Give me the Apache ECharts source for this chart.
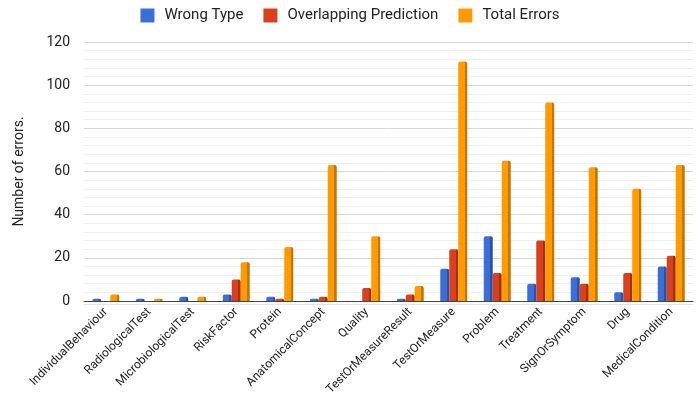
<!DOCTYPE html>
<html><head><meta charset="utf-8">
<script src="https://cdn.jsdelivr.net/npm/echarts@6/dist/echarts.min.js"></script>
<style>html,body{margin:0;padding:0;background:#fff}#c{width:700px;height:408px}</style>
</head><body><div id="c"></div>
<script>
const categories = ["IndividualBehaviour","RadiologicalTest","MicrobiologicalTest","RiskFactor","Protein","AnatomicalConcept","Quality","TestOrMeasureResult","TestOrMeasure","Problem","Treatment","SignOrSymptom","Drug","MedicalCondition"];
const wrongType = [1,1,2,3,2,1,0,1,15,30,8,11,4,16];
const overlapping = [0,0,0,10,1,2,6,3,24,13,28,8,13,21];
const totalErrors = [3,1,2,18,25,63,30,7,111,65,92,62,52,63];
const yTicks = [0,20,40,60,80,100,120];

function grad(main, dark){
  return new echarts.graphic.LinearGradient(0,0,1,0,[
    {offset:0,color:main},{offset:0.72,color:main},{offset:0.72,color:dark},{offset:1,color:dark}]);
}
const chart = echarts.init(document.getElementById('c'));
const font = 'Roboto, "Noto Sans", sans-serif';
chart.setOption({
  animation:false,
  textStyle:{fontFamily:font},
  legend:{top:3,left:'center',itemWidth:14,itemHeight:14,itemGap:20,icon:'rect',
    textStyle:{fontSize:15,color:'#222',fontFamily:font,padding:[0,0,0,5]},
    data:[{name:'Wrong Type',itemStyle:{color:'#3b6fd8'}},{name:'Overlapping Prediction',itemStyle:{color:'#d9401c'}},{name:'Total Errors',itemStyle:{color:'#ff9a00'}}]},
  grid:{left:84,right:7,top:42,bottom:107},
  xAxis:{type:'category',data:categories,
    axisLine:{lineStyle:{color:'#444',width:1.2,shadowColor:'#e4e4e4',shadowOffsetY:3,shadowBlur:0}},axisTick:{show:false},
    axisLabel:{rotate:45,interval:0,fontSize:12,color:'#222',margin:9,fontFamily:font}},
  yAxis:{type:'value',min:0,max:120,interval:20,
    name:'Number of errors.',nameLocation:'middle',nameGap:58,
    nameTextStyle:{fontSize:14,color:'#222',fontFamily:font},
    axisLabel:{fontSize:14,color:'#222',margin:14,fontFamily:font,
      formatter:v=>yTicks.includes(v)?String(v):''},
    axisLine:{show:false},axisTick:{show:false},
    splitLine:{lineStyle:{color:'#d6d6d6'}},
    minorTick:{show:false,splitNumber:5},
    minorSplitLine:{show:true,lineStyle:{color:'#efefef'}}},
  series:[
    {name:'Wrong Type',type:'bar',data:wrongType,barWidth:9,barGap:'0%',itemStyle:{color:grad('#3b6fd8','#2a52a8'),borderRadius:[2,2,0,0]}},
    {name:'Overlapping Prediction',type:'bar',data:overlapping,barWidth:9,barGap:'0%',itemStyle:{color:grad('#d9401c','#a82e12'),borderRadius:[2,2,0,0]}},
    {name:'Total Errors',type:'bar',data:totalErrors,barWidth:9,barGap:'0%',itemStyle:{color:grad('#ff9a00','#c57600'),borderRadius:[2,2,0,0]}}
  ]
});
</script></body></html>
